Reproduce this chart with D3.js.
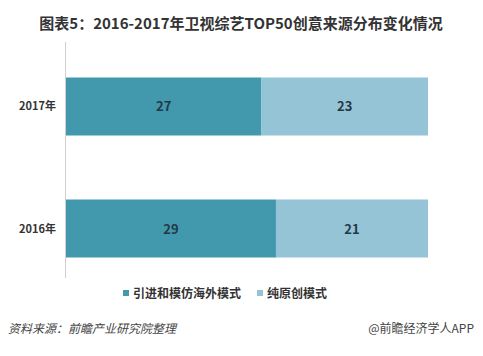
<!DOCTYPE html>
<html><head><meta charset="utf-8">
<script src="https://cdn.jsdelivr.net/npm/d3@7/dist/d3.min.js"></script>
<style>body{margin:0;background:#fff;} svg{display:block;font-family:"Noto Sans CJK SC","Noto Sans",sans-serif;}</style>
</head><body>
<script>
const categories = ["2017年", "2016年"];
const seriesNames = ["引进和模仿海外模式", "纯原创模式"];
const importValues = [27, 29];
const originalValues = [23, 21];
const colors = ["#4299ae", "#94c4d6"];

const W = 483, H = 356;
const svg = d3.select("body").append("svg").attr("width", W).attr("height", H);

svg.append("text").attr("x", 241).attr("y", 29).attr("text-anchor", "middle")
  .attr("font-size", 15).attr("font-weight", "bold").attr("fill", "#333")
  .text("图表5：2016-2017年卫视综艺TOP50创意来源分布变化情况");

const x = d3.scaleLinear().domain([0, 50]).range([66, 428]);
const y = d3.scaleBand().domain(categories).range([77.5, 257.5]).paddingInner(0.5246).paddingOuter(0);

// axis line
svg.append("line").attr("x1", 65.5).attr("x2", 65.5).attr("y1", 42).attr("y2", 278)
  .attr("stroke", "#d0d0d0").attr("stroke-width", 1);

const data = categories.map((c, i) => ({cat: c, vals: [importValues[i], originalValues[i]]}));
const stack = data.map(d => {
  let acc = 0;
  return d.vals.map((v, k) => { const s = {cat: d.cat, k, v, x0: acc, x1: acc + v}; acc += v; return s; });
}).flat();

svg.selectAll("rect.bar").data(stack).enter().append("rect")
  .attr("x", d => x(d.x0)).attr("width", d => x(d.x1) - x(d.x0))
  .attr("y", d => y(d.cat)).attr("height", y.bandwidth())
  .attr("fill", d => colors[d.k]);

svg.selectAll("text.val").data(stack).enter().append("text")
  .attr("x", d => (x(d.x0) + x(d.x1)) / 2).attr("y", d => y(d.cat) + y.bandwidth() / 2 + 5)
  .attr("text-anchor", "middle").attr("font-size", 13).attr("font-weight", "bold")
  .attr("fill", "#243845").text(d => d.v);

svg.selectAll("text.cat").data(categories).enter().append("text")
  .attr("x", 56).attr("y", d => y(d) + y.bandwidth() / 2 + 4)
  .attr("text-anchor", "end").attr("font-size", 11).attr("font-weight", "bold")
  .attr("fill", "#333").text(d => d);

// legend
const legX = [123, 257];
seriesNames.forEach((n, i) => {
  svg.append("rect").attr("x", legX[i]).attr("y", 290).attr("width", 6).attr("height", 6).attr("fill", colors[i]);
  svg.append("text").attr("x", legX[i] + 10).attr("y", 297.5).attr("font-size", 12)
    .attr("font-weight", "bold").attr("fill", "#333").text(n);
});

// footer
svg.append("text").attr("x", 8).attr("y", 333).attr("font-size", 12).attr("font-style", "italic")
  .attr("fill", "#444").text("资料来源：前瞻产业研究院整理");
svg.append("text").attr("x", 474).attr("y", 333).attr("text-anchor", "end").attr("font-size", 12)
  .attr("fill", "#444").text("@前瞻经济学人APP");
</script>
</body></html>
